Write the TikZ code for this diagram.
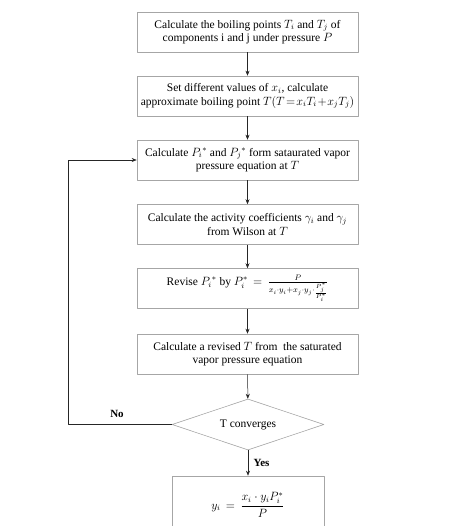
\documentclass[tikz,border=0pt]{standalone}
\usepackage{fontspec}
\setmainfont{Liberation Serif}
\usetikzlibrary{shapes.geometric,arrows.meta}
\begin{document}
\begin{tikzpicture}[x=1pt, y=-1pt, font=\fontsize{11.5}{13.5}\selectfont, line join=round, >={Stealth[length=5pt,width=4pt]},
	stepbox/.style={draw=gray!70, line width=0.6pt, minimum width=221pt, minimum height=40pt, align=center, inner sep=2pt},
	testbox/.style={draw=gray!70, line width=0.6pt, diamond, aspect=3, minimum width=152pt, minimum height=51pt, inner sep=0pt},
	flow/.style={->, draw=black!85, line width=0.5pt}]
		\clip (0,0) rectangle (455,526);
		\fill[white] (0,0) rectangle (455,526);
		\node[stepbox] (boil) at (247.5,32) {Calculate the boiling points $T_i$ and $T_j$ of\\components i and j under pressure $P$};
		\node[stepbox] (guess) at (247.5,96) {Set different values of $x_i$, calculate\\approximate boiling point $T(T\!=\!x_iT_i\!+\!x_jT_j)$};
		\node[stepbox] (psat) at (247.5,160) {Calculate $P_i{}^*$ and $P_j{}^*$ form sataurated vapor\\pressure equation at $T$};
		\node[stepbox] (gamma) at (247.5,224.5) {Calculate the activity coefficients $\gamma_i$ and $\gamma_j$\\from Wilson at $T$};
		\node[stepbox] (revise) at (247.5,288.5) {Revise $P_i{}^*$ by $P_i^* \,=\, \frac{P}{x_i\cdot y_i + x_j\cdot y_j\cdot\lower2pt\hbox{$\scriptstyle\frac{P_j^*}{P_i^*}$}}$};
		\node[stepbox] (newT) at (247.5,354) {Calculate a revised $T$ from \ the saturated\\vapor pressure equation};
		\node[testbox] (conv) at (248,424.5) {T converges};
		\node[stepbox, minimum width=152pt, minimum height=58pt] (yi) at (248,505) {$\displaystyle y_i \,=\, \frac{x_i\cdot y_iP_i^*}{P}$};
		\coordinate (back) at (68,424.5);
		\coordinate (up) at (68,160);
		\draw[flow] (boil) -- (guess);
		\draw[flow] (guess) -- (psat);
		\draw[flow] (psat) -- (gamma);
		\draw[flow] (gamma) -- (revise);
		\draw[flow] (revise) -- (newT);
		\draw[flow] (newT) -- (conv);
		\draw[flow] (conv) -- node[right, xshift=2pt, font=\bfseries\fontsize{11}{13}\selectfont] {Yes} (yi);
		\draw[flow] (conv.west) -- (back) -- (up) -- (psat.west);
		\node[font=\bfseries\fontsize{11}{13}\selectfont] (no) at (117,414) {No};
	\end{tikzpicture}
\end{document}
